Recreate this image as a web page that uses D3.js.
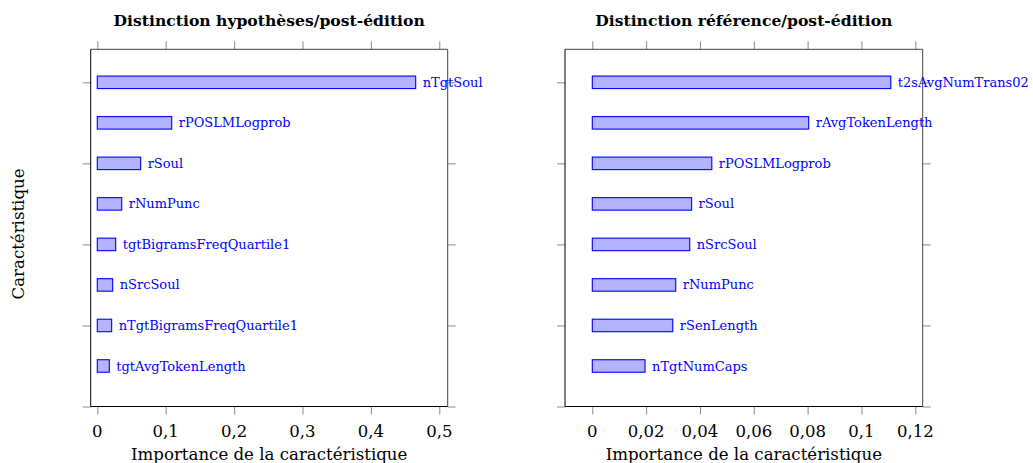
<!DOCTYPE html>
<html><head><meta charset="utf-8">
<script src="https://cdn.jsdelivr.net/npm/d3@7"></script>
<style>body{margin:0;background:#fff}text{font-family:"DejaVu Serif",serif}</style>
</head><body><svg id="c" width="1033" height="463"></svg>
<script>
const leftTitle = "Distinction hypothèses/post-édition";
const leftFeatures = ["nTgtSoul","rPOSLMLogprob","rSoul","rNumPunc","tgtBigramsFreqQuartile1","nSrcSoul","nTgtBigramsFreqQuartile1","tgtAvgTokenLength"];
const leftValues = [0.4655,0.1088,0.0634,0.0357,0.0269,0.0225,0.021,0.0176];
const leftTicks = [0,0.1,0.2,0.3,0.4,0.5];
const leftTickLabels = ["0","0,1","0,2","0,3","0,4","0,5"];

const rightTitle = "Distinction référence/post-édition";
const rightFeatures = ["t2sAvgNumTrans02","rAvgTokenLength","rPOSLMLogprob","rSoul","nSrcSoul","rNumPunc","rSenLength","nTgtNumCaps"];
const rightValues = [0.1109,0.0804,0.0444,0.0369,0.0362,0.0310,0.0299,0.0196];
const rightTicks = [0,0.02,0.04,0.06,0.08,0.1,0.12];
const rightTickLabels = ["0","0,02","0,04","0,06","0,08","0,1","0,12"];

const yTicks = [0,2,4,6,8];
const xLabel = "Importance de la caractéristique";
const yLabel = "Caractéristique";

const svg = d3.select("#c");
const plotTop = 49.3, plotBottom = 406.5;
const y = d3.scaleLinear().domain([0, 8.815]).range([plotBottom, plotTop]);
const tickLen = 8, tickCol = "#8a8a8a";

function styleAxis(sel) {
  sel.select(".domain").remove();
  sel.selectAll(".tick line").attr("stroke", tickCol);
  sel.selectAll(".tick text").remove();
}

function panel(x0, x1, domain, title, feats, vals, ticks, tickLabels) {
  const g = svg.append("g");
  const x = d3.scaleLinear().domain(domain).range([x0, x1]);
  g.append("g").attr("transform", `translate(0,${plotBottom})`)
    .call(d3.axisBottom(x).tickValues(ticks).tickSize(tickLen)).call(styleAxis);
  g.append("g").attr("transform", `translate(0,${plotTop})`)
    .call(d3.axisTop(x).tickValues(ticks).tickSize(tickLen)).call(styleAxis);
  g.append("g").attr("transform", `translate(${x0},0)`)
    .call(d3.axisLeft(y).tickValues(yTicks).tickSize(tickLen)).call(styleAxis);
  g.append("g").attr("transform", `translate(${x1},0)`)
    .call(d3.axisRight(y).tickValues(yTicks).tickSize(tickLen)).call(styleAxis);
  g.append("line").attr("x1", x0).attr("x2", x1).attr("y1", plotTop).attr("y2", plotTop).attr("stroke", "#444");
  g.append("line").attr("x1", x1).attr("x2", x1).attr("y1", plotTop).attr("y2", plotBottom).attr("stroke", "#444");
  g.append("line").attr("x1", x0).attr("x2", x0).attr("y1", plotTop).attr("y2", plotBottom).attr("stroke", "#000");
  g.append("line").attr("x1", x0).attr("x2", x1).attr("y1", plotBottom).attr("y2", plotBottom).attr("stroke", "#000");
  const n = feats.length;
  const bh = 12.5;
  feats.forEach((f, i) => {
    const pos = n - i;
    g.append("rect").attr("x", x(0)).attr("y", y(pos) - bh / 2)
      .attr("width", x(vals[i]) - x(0)).attr("height", bh)
      .attr("fill", "#b3b3ff").attr("stroke", "#0000ff").attr("stroke-width", 1.1);
    g.append("text").attr("x", x(vals[i]) + 7).attr("y", y(pos)).attr("dy", "0.35em")
      .attr("fill", "#0000ff").attr("font-size", 13).text(f);
  });
  ticks.forEach((t, i) => {
    g.append("text").attr("x", x(t)).attr("y", 437).attr("text-anchor", "middle")
      .attr("font-size", 16.5).attr("fill", "#000").text(tickLabels[i]);
  });
  g.append("text").attr("x", (x0 + x1) / 2).attr("y", 459.5).attr("text-anchor", "middle")
    .attr("font-size", 16.6).text(xLabel);
  g.append("text").attr("x", (x0 + x1) / 2).attr("y", 26).attr("text-anchor", "middle")
    .attr("font-size", 15.6).attr("font-weight", "bold").text(title);
}

panel(90.7, 447.7, [-0.00965, 0.5123], leftTitle, leftFeatures, leftValues, leftTicks, leftTickLabels);
panel(565, 922.7, [-0.01014, 0.12275], rightTitle, rightFeatures, rightValues, rightTicks, rightTickLabels);

svg.append("text").attr("transform", "translate(24,234) rotate(-90)").attr("text-anchor", "middle")
  .attr("font-size", 16.6).text(yLabel);
</script></body></html>
